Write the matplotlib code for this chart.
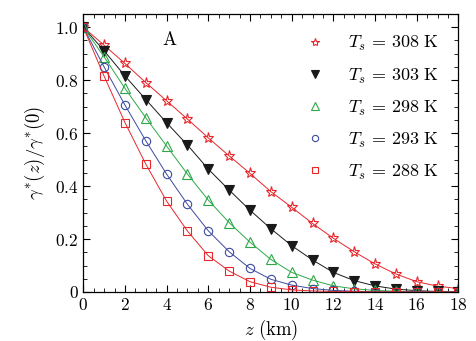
import numpy as np
import matplotlib
matplotlib.use("Agg")
import matplotlib.pyplot as plt
from matplotlib.ticker import MultipleLocator, FuncFormatter

plt.rcParams['mathtext.fontset'] = 'cm'
plt.rcParams['font.family'] = ['DejaVu Serif']

z_km = list(range(0, 19))

ratio_308 = [1.0, 0.932, 0.863, 0.791, 0.722, 0.653, 0.582, 0.514, 0.448, 0.379,
             0.320, 0.259, 0.203, 0.152, 0.106, 0.068, 0.039, 0.022, 0.013]
ratio_303 = [1.0, 0.911, 0.816, 0.727, 0.639, 0.555, 0.464, 0.385, 0.309, 0.239,
             0.175, 0.121, 0.074, 0.043, 0.023, 0.011, 0.005, 0.002, 0.001]
ratio_298 = [1.0, 0.888, 0.769, 0.658, 0.551, 0.445, 0.347, 0.262, 0.188, 0.123,
             0.074, 0.045, 0.023, 0.012, 0.006, 0.003, 0.001, 0.0005, 0.0002]
ratio_293 = [1.0, 0.850, 0.706, 0.571, 0.445, 0.331, 0.231, 0.152, 0.089, 0.048,
             0.026, 0.013, 0.006, 0.003, 0.001, 0.0005, 0.0002, 0.0001, 0.0]
ratio_288 = [1.0, 0.815, 0.640, 0.483, 0.343, 0.230, 0.137, 0.079, 0.039, 0.018,
             0.008, 0.004, 0.002, 0.001, 0.0005, 0.0002, 0.0001, 0.0, 0.0]

labels = [r'$T_s\,=\,308\ \mathrm{K}$', r'$T_s\,=\,303\ \mathrm{K}$',
          r'$T_s\,=\,298\ \mathrm{K}$', r'$T_s\,=\,293\ \mathrm{K}$',
          r'$T_s\,=\,288\ \mathrm{K}$']
series = [ratio_308, ratio_303, ratio_298, ratio_293, ratio_288]
colors = ['#e8262b', '#1a1a1a', '#2ca848', '#3d4aa0', '#e8262b']
markers = ['*', 'v', '^', 'o', 's']
fills = ['none', '#1a1a1a', 'none', 'none', 'none']
msizes = [8.0, 7.0, 7.0, 6.0, 5.6]

fig = plt.figure(figsize=(4.77, 3.41), dpi=100)
ax = fig.add_axes([0.1746, 0.1437, 0.961 - 0.1746, 0.959 - 0.1437])

handles = []
for y, c, m, f, ms, lab in zip(series, colors, markers, fills, msizes, labels):
    ax.plot(z_km, y, '-', color=c, lw=0.7)
    h, = ax.plot(z_km, y, linestyle='none', marker=m, ms=ms, mfc=f, mec=c,
                 mew=0.8, label=lab)
    handles.append(h)

ax.set_xlim(0, 18)
ax.set_ylim(0, 1.05)
ax.xaxis.set_major_locator(MultipleLocator(2))
ax.xaxis.set_minor_locator(MultipleLocator(0.5))
ax.yaxis.set_major_locator(MultipleLocator(0.2))
ax.yaxis.set_minor_locator(MultipleLocator(0.05))

def xfmt(v, pos):
    return r'$\mathrm{%d}$' % int(round(v))

def yfmt(v, pos):
    if abs(v) < 1e-9:
        return r'$\mathrm{0}$'
    return r'$\mathrm{%.1f}$' % v

ax.xaxis.set_major_formatter(FuncFormatter(xfmt))
ax.yaxis.set_major_formatter(FuncFormatter(yfmt))
ax.tick_params(which='both', direction='in', top=True, right=True, labelsize=12.5)
ax.tick_params(which='major', length=5, width=0.8)
ax.tick_params(which='minor', length=2.8, width=0.6)
for s in ax.spines.values():
    s.set_linewidth(0.9)

ax.set_xlabel(r'$z\ \mathrm{(km)}$', fontsize=13.5, labelpad=3)
ax.set_ylabel(r'$\gamma^{*}(z)/\gamma^{*}(0)$', fontsize=13.5, labelpad=6)

ax.text(4.16, 0.95, r'$\mathrm{A}$', fontsize=13.5, ha='center', va='center')

leg = ax.legend(handles=handles, loc='upper right', frameon=False,
                fontsize=13, markerscale=0.75, handlelength=1.0,
                handletextpad=1.3, labelspacing=0.72,
                bbox_to_anchor=(0.99, 0.985))

fig.savefig('out.png', dpi=100)
